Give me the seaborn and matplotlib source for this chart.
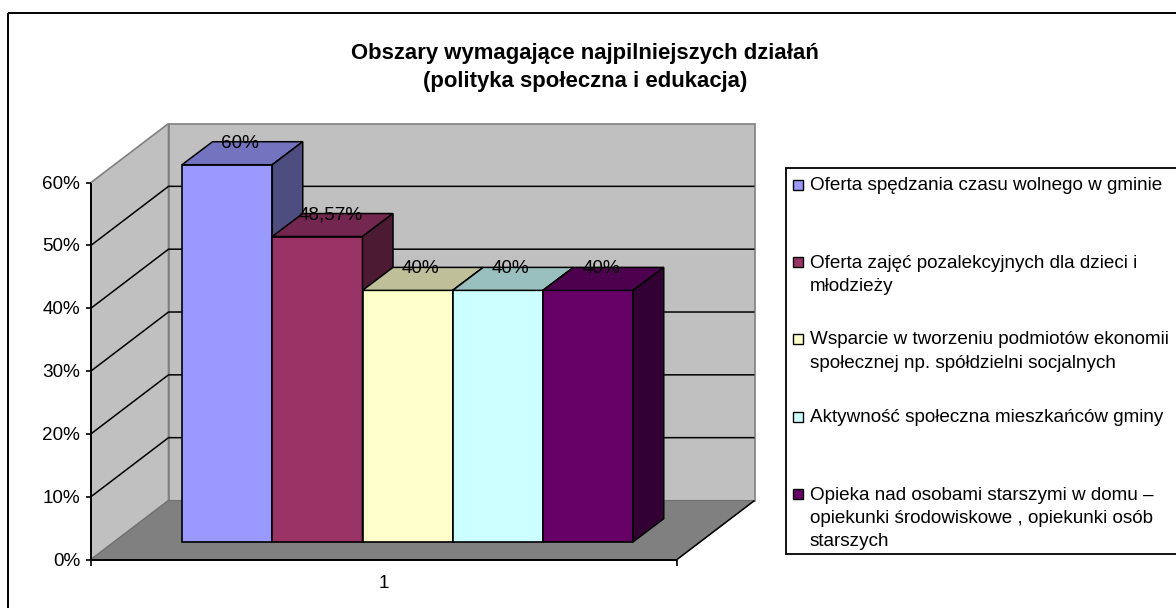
import matplotlib
matplotlib.use("Agg")
import matplotlib.pyplot as plt
from matplotlib.patches import Polygon, Rectangle
from matplotlib.transforms import Affine2D
import pandas as pd
import seaborn as sns

# ---- data ----
categories = [
    "Oferta spędzania czasu wolnego w gminie",
    "Oferta zajęć pozalekcyjnych dla dzieci i\nmłodzieży",
    "Wsparcie w tworzeniu podmiotów ekonomii\nspołecznej np. spółdzielni socjalnych",
    "Aktywność społeczna mieszkańców gminy",
    "Opieka nad osobami starszymi w domu –\nopiekunki środowiskowe , opiekunki osób\nstarszych",
]
values = [60, 48.57, 40, 40, 40]
value_labels = ["60%", "48,57%", "40%", "40%", "40%"]
y_ticks = [0, 10, 20, 30, 40, 50, 60]
y_tick_labels = ["0%", "10%", "20%", "30%", "40%", "50%", "60%"]
x_tick_label = "1"
title = "Obszary wymagające najpilniejszych działań\n(polityka społeczna i edukacja)"

front_colors = ["#9999FF", "#993366", "#FFFFCC", "#CCFFFF", "#660066"]
top_colors = ["#7373BF", "#732650", "#BFBF99", "#99BFBF", "#4D004D"]
side_colors = ["#4D4D80", "#4D1A33", "#808066", "#668080", "#330033"]

# ---- layout constants, in reference pixels (y downwards) ----
W, H = 1176, 608
BAR_L, BAR_W, BAR_BASE, PX_PER_PCT = 182.0, 90.25, 541.7, 6.283
BAR_DX, BAR_DY = 30.5, -23.0
FRONT_L, FRONT_R, FRONT_Y = 91.0, 677.0, 559.5
BACK_L, BACK_R, BACK_Y = 168.5, 754.5, 500.5
FS = 13.6

sns.set_theme(style="white")
plt.rcParams["font.family"] = ["Liberation Sans", "DejaVu Sans"]

fig = plt.figure(figsize=(W / 100, H / 100), dpi=100, facecolor="white")
ax = fig.add_axes([0, 0, 1, 1])

df = pd.DataFrame({"obszar": categories, "udzial": values})
sns.barplot(data=df, x="obszar", y="udzial", hue="obszar", palette=front_colors,
            hue_order=categories, order=categories, width=1, saturation=1,
            edgecolor="black", linewidth=1.2, legend=False, ax=ax)
ax.set_xlim((0 - BAR_L) / BAR_W - 0.5, (W - BAR_L) / BAR_W - 0.5)
ax.set_ylim((BAR_BASE - H) / PX_PER_PCT, BAR_BASE / PX_PER_PCT)
ax.axis("off")

px = Affine2D().scale(1, -1).translate(0, H)   # reference pixels -> display


def poly(points, fc, ec="none", lw=0.0, z=1.0):
    ax.add_patch(Polygon(points, closed=True, facecolor=fc, edgecolor=ec,
                         linewidth=lw, transform=px, zorder=z, clip_on=False))


def line(xs, ys, color="black", lw=1.2, z=2.0):
    ax.plot(xs, ys, color=color, lw=lw, transform=px, zorder=z,
            solid_capstyle="butt", clip_on=False)


def label(x, y, s, **kw):
    kw.setdefault("fontsize", FS)
    kw.setdefault("color", "black")
    kw.setdefault("va", "center")
    ax.text(x, y + 1.5, s, transform=px, clip_on=False, **kw)


# outer frame: open to the right and bottom edges of the picture
line([8, 8], [H + 2, 12.5], lw=1.4, z=0.5)
line([8, W + 2], [12.5, 12.5], lw=1.4, z=0.5)

# walls and floor
wall_h = max(y_ticks) * PX_PER_PCT
top_back = BACK_Y - wall_h
top_front = FRONT_Y - wall_h
poly([(BACK_L, BACK_Y), (BACK_R, BACK_Y), (BACK_R, top_back), (BACK_L, top_back)],
     "#C0C0C0", "#808080", 1.2, 1.0)
poly([(FRONT_L, FRONT_Y), (BACK_L, BACK_Y), (BACK_L, top_back), (FRONT_L, top_front)],
     "#C0C0C0", "#808080", 1.2, 1.1)
poly([(FRONT_L, FRONT_Y), (FRONT_R, FRONT_Y), (BACK_R, BACK_Y), (BACK_L, BACK_Y)],
     "#808080", "#707070", 0.8, 1.2)

# gridlines on both walls
for v in y_ticks[1:-1]:
    d = v * PX_PER_PCT
    line([FRONT_L, BACK_L, BACK_R], [FRONT_Y - d, BACK_Y - d, BACK_Y - d], lw=1.1)

# axes, ticks, tick labels
line([FRONT_L, FRONT_L], [FRONT_Y, top_front], lw=1.4, z=3)
line([FRONT_L, FRONT_R], [FRONT_Y, FRONT_Y], lw=1.4, z=3)
line([FRONT_R, BACK_R], [FRONT_Y, BACK_Y], lw=1.1, z=3)
for v, s in zip(y_ticks, y_tick_labels):
    yy = FRONT_Y - v * PX_PER_PCT
    line([FRONT_L - 5, FRONT_L], [yy, yy], lw=1.2, z=3)
    label(80, yy, s, ha="right")
for xx in (FRONT_L, FRONT_R):
    line([xx, xx], [FRONT_Y, FRONT_Y + 6], lw=1.2, z=3)
label(384, 582, x_tick_label, ha="center")

# 3-D faces, taken from the bars seaborn drew
to_px = ax.transData + px.inverted()
bars = [b for b in ax.patches if isinstance(b, Rectangle) and b.get_height() > 0]
bars = sorted(bars, key=lambda b: b.get_x())
for i, bar in enumerate(bars):
    z = 5 + 2 * i
    bar.set_zorder(z)
    (x0, yb), (x1, yt) = to_px.transform(
        [(bar.get_x(), 0), (bar.get_x() + bar.get_width(), bar.get_height())])
    poly([(x0, yt), (x1, yt), (x1 + BAR_DX, yt + BAR_DY), (x0 + BAR_DX, yt + BAR_DY)],
         top_colors[i], "black", 1.1, z)
    poly([(x1, yt), (x1 + BAR_DX, yt + BAR_DY), (x1 + BAR_DX, yb + BAR_DY), (x1, yb)],
         side_colors[i], "black", 1.1, z)
    label((x0 + x1) / 2 + 13, yt + BAR_DY, value_labels[i], ha="center", zorder=30)

# title
label(585, 66, title, ha="center", fontsize=15.9, fontweight="bold",
      linespacing=1.5, zorder=30)

# legend box
ax.add_patch(Rectangle((785.5, 167.5), W, 386.5, facecolor="white", edgecolor="black",
                       linewidth=1.3, transform=px, zorder=20, clip_on=False))
legend_ys = [185, 262, 339, 417, 494]
for c, s, yy in zip(front_colors, categories, legend_ys):
    ax.add_patch(Rectangle((793, yy - 5), 10, 10, facecolor=c, edgecolor="black",
                           linewidth=1.0, transform=px, zorder=21, clip_on=False))
    ax.text(809.5, yy - 7.5, s, transform=px, fontsize=FS, color="black", va="top",
            ha="left", linespacing=1.5, zorder=21)

fig.savefig("out.png", dpi=100, facecolor="white")
